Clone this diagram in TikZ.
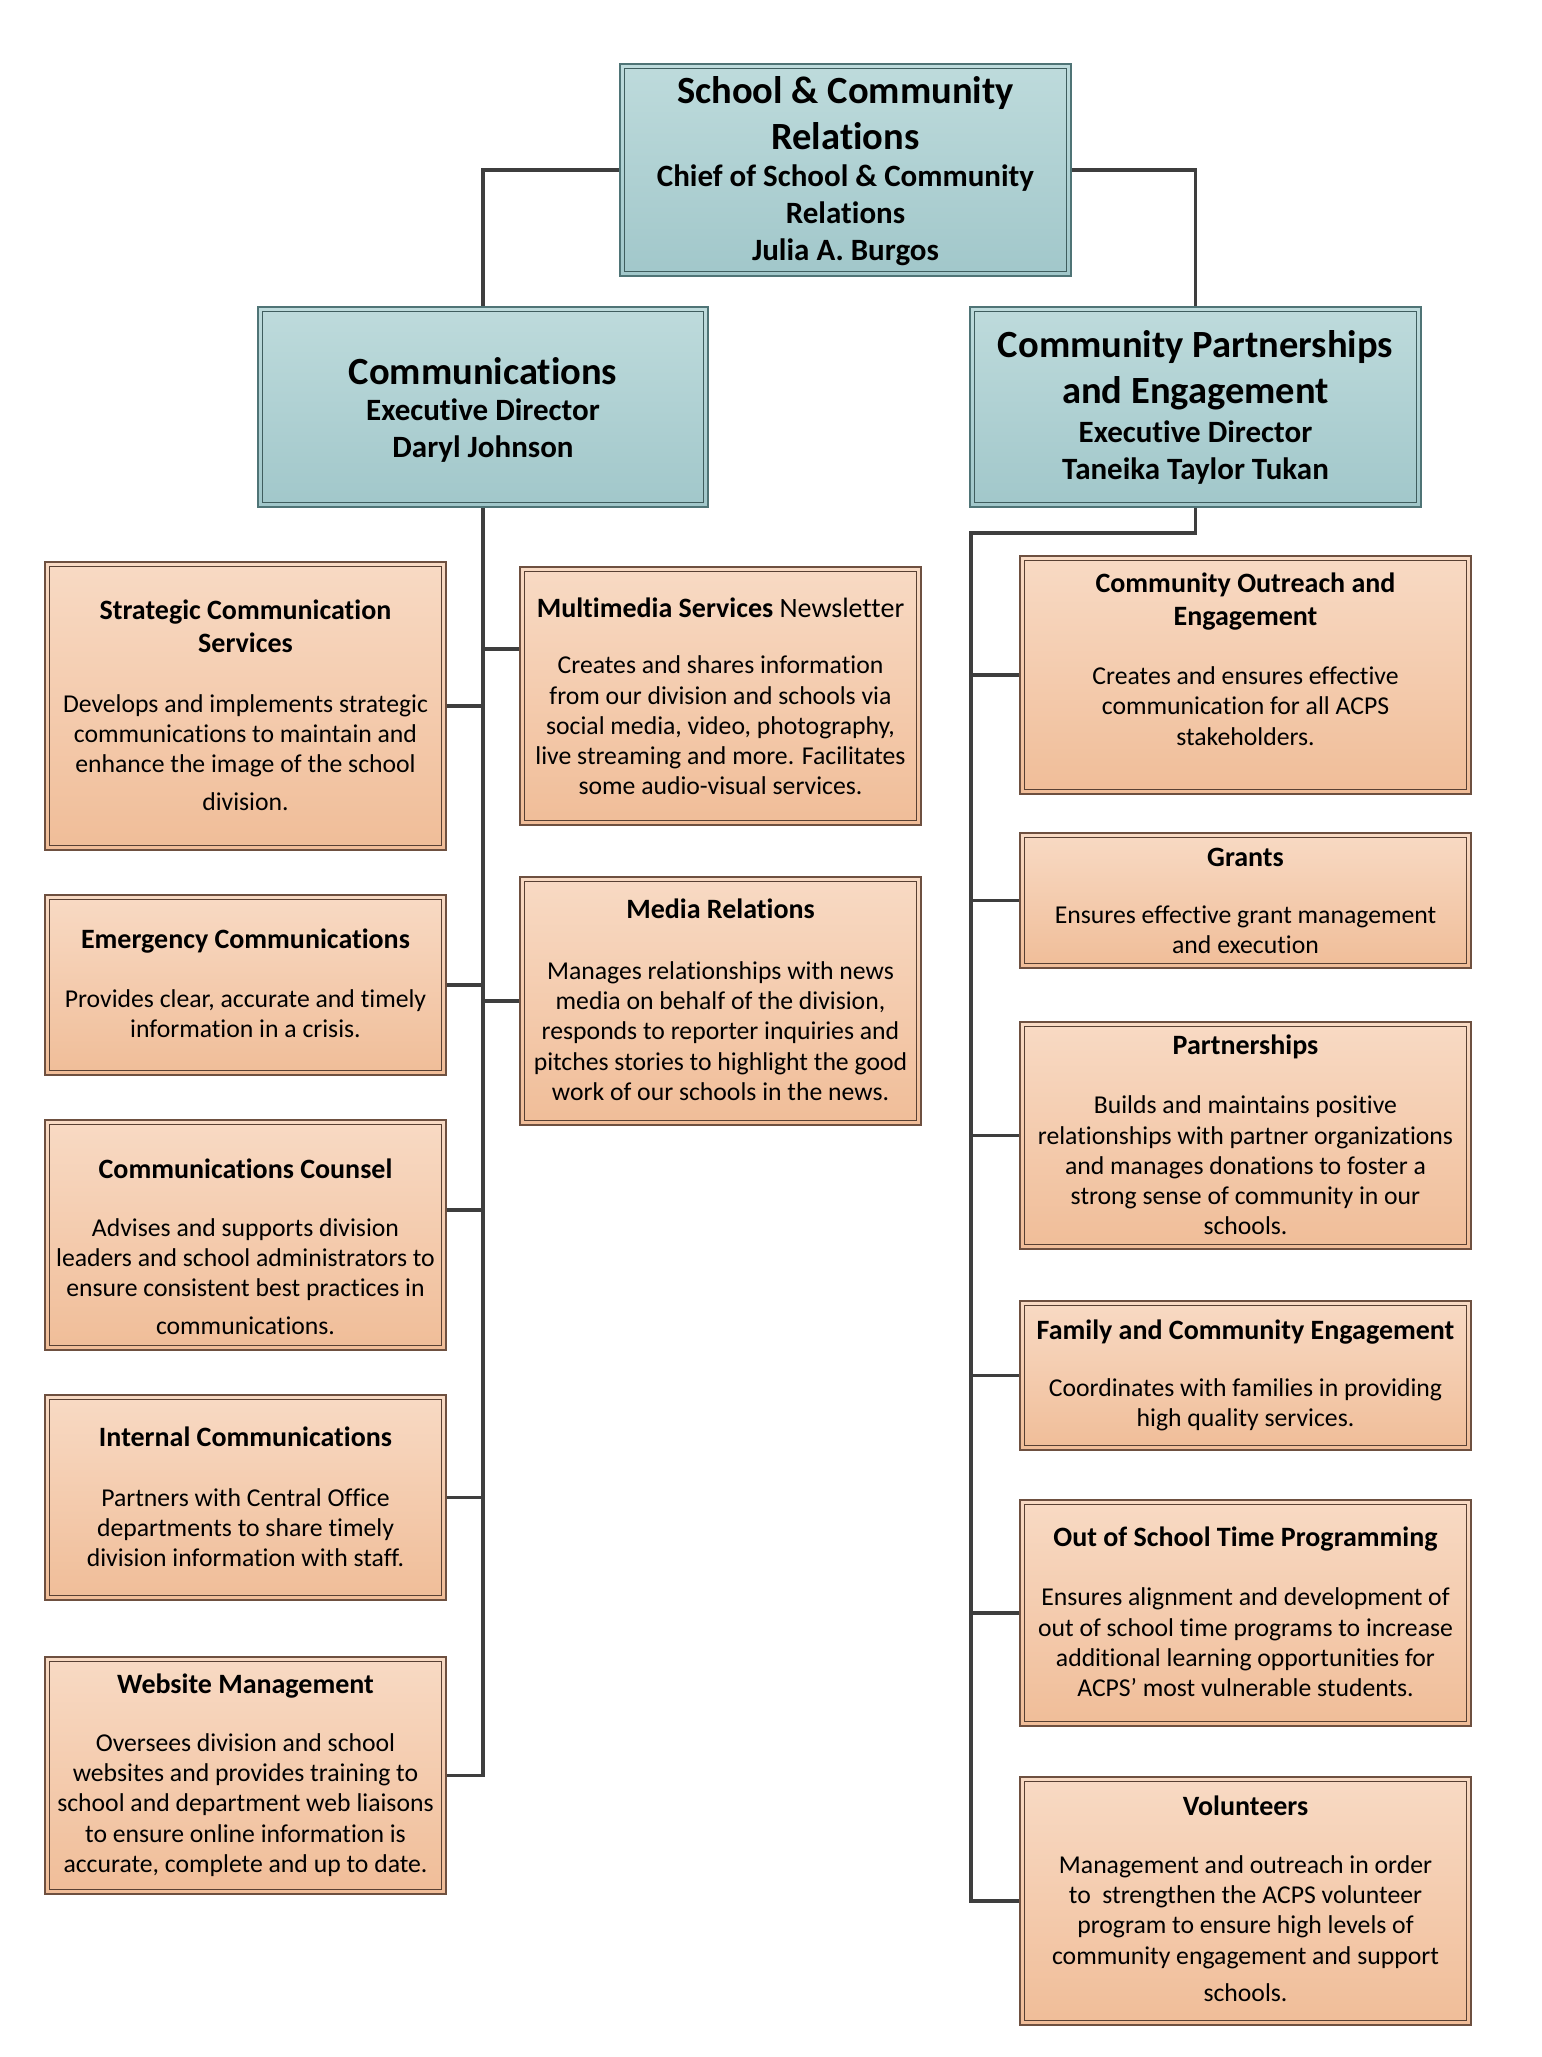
\documentclass[tikz,border=0pt]{standalone}
\usepackage{fontspec}
\setmainfont{Carlito}[Ligatures={NoCommon}]
\definecolor{tealtop}{HTML}{BEDBDC}
\definecolor{tealbot}{HTML}{A1C7CA}
\definecolor{tealedge}{HTML}{4F7476}
\definecolor{orgtop}{HTML}{F8DAC4}
\definecolor{orgbot}{HTML}{F0BD98}
\definecolor{orgedge}{HTML}{6E5040}
\definecolor{connc}{HTML}{3E3E3E}
\begin{document}
\begin{tikzpicture}[x=1pt,y=-1pt,
  tealbox/.style={draw=tealedge, line width=1.6pt, top color=tealtop, bottom color=tealbot, inner sep=0pt},
  orgbox/.style={draw=orgedge, line width=1.4pt, top color=orgtop, bottom color=orgbot, inner sep=0pt},
  tealin/.style={draw=tealedge!80!black, line width=1.2pt},
  orgin/.style={draw=orgedge!80!black, line width=1.1pt},
  bigttl/.style={font=\fontsize{38.5}{46}\selectfont\bfseries, align=center, inner sep=0pt},
  subttl/.style={font=\fontsize{31}{37}\selectfont\bfseries, align=center, inner sep=0pt},
  boxttl/.style={font=\fontsize{28}{33}\selectfont\bfseries, align=center, inner sep=0pt},
  bodytxt/.style={font=\fontsize{25.7}{30.3}\selectfont, align=center, inner sep=0pt},
  conn/.style={draw=connc, line width=3.5pt}
]
\useasboundingbox (0,0) rectangle (1542,2057);
\fill[white] (0,0) rectangle (1542,2057);

% ---------- top level ----------
\node[tealbox, minimum width=451pt, minimum height=212pt] (top) at (845.5,170) {};
\node[tealbox, minimum width=450pt, minimum height=200pt] (comm) at (483,407) {};
\node[tealbox, minimum width=451pt, minimum height=200pt] (cpe) at (1195.5,407) {};
\foreach \n in {top,comm,cpe}
  \draw[tealin] ([xshift=5pt,yshift=-5pt]\n.north west) rectangle ([xshift=-5pt,yshift=5pt]\n.south east);

% ---------- left column ----------
\node[orgbox, minimum width=401pt, minimum height=288pt] (sc) at (245.5,706) {};
\node[orgbox, minimum width=401pt, minimum height=180pt] (em) at (245.5,985) {};
\node[orgbox, minimum width=401pt, minimum height=230pt] (cc) at (245.5,1235) {};
\node[orgbox, minimum width=401pt, minimum height=205pt] (ic) at (245.5,1497.5) {};
\node[orgbox, minimum width=401pt, minimum height=237pt] (wm) at (245.5,1775.5) {};
% ---------- middle column ----------
\node[orgbox, minimum width=401pt, minimum height=258pt] (mm) at (720.5,696) {};
\node[orgbox, minimum width=401pt, minimum height=248pt] (mr) at (720.5,1001) {};
% ---------- right column ----------
\node[orgbox, minimum width=451pt, minimum height=238pt] (co) at (1245.5,675) {};
\node[orgbox, minimum width=451pt, minimum height=135pt] (gr) at (1245.5,900.5) {};
\node[orgbox, minimum width=451pt, minimum height=227pt] (pa) at (1245.5,1135.5) {};
\node[orgbox, minimum width=451pt, minimum height=149pt] (fc) at (1245.5,1375.5) {};
\node[orgbox, minimum width=451pt, minimum height=226pt] (os) at (1245.5,1613) {};
\node[orgbox, minimum width=451pt, minimum height=248pt] (vo) at (1245.5,1901) {};
\foreach \n in {sc,em,cc,ic,wm,mm,mr,co,gr,pa,fc,os,vo}
  \draw[orgin] ([xshift=5pt,yshift=-5pt]\n.north west) rectangle ([xshift=-5pt,yshift=5pt]\n.south east);

% ---------- connectors ----------
\draw[conn] (top.west) -| (comm.north);
\draw[conn] (top.east) -| (cpe.north);
\draw[conn] (comm.south) -- (comm.south |- wm.east) -- (wm.east);
\foreach \n in {sc,em,ic}
  \draw[conn] (\n.east) -- (\n.east -| comm.south);
\draw[conn] ([yshift=25pt]cc.east) -- ([yshift=25pt]cc.east -| comm.south);
\draw[conn] ([yshift=47pt]mm.west) -- ([yshift=47pt]mm.west -| comm.south);
\draw[conn] (mr.west) -- (mr.west -| comm.south);
\coordinate (rtop) at (971,533);
\draw[conn] (cpe.south) |- (rtop) -- (rtop |- vo.west) -- (vo.west);
\foreach \n in {co,gr,pa,fc,os}
  \draw[conn] (\n.west) -- (\n.west -| rtop);

% ---------- texts ----------
\node[bigttl] (topt) at (845.5,113.5) {School \& Community\\Relations};
\node[subttl] (tops) at (845.5,215) {Chief of School \& Community\\Relations\\Julia A. Burgos};
\node[bigttl] (commt) at (483,371) {Communications};
\node[subttl] (comms) at (483,430.5) {Executive Director\\Daryl Johnson};
\node[bigttl] (cpet) at (1195.5,370) {Community Partnerships\\and Engagement};
\node[subttl] (cpes) at (1195.5,452.5) {Executive Director\\Taneika Taylor Tukan};

\node[boxttl] (sct) at (245.5,626) {Strategic Communication\\Services};
\node[bodytxt] (scb) at (245.5,752.5) {Develops and implements strategic\\communications to maintain and\\enhance the image of the school\\[7pt]division.};
\node[boxttl] (emt) at (245.5,941) {Emergency Communications};
\node[bodytxt] (emb) at (245.5,1014) {Provides clear, accurate and timely\\information in a crisis.};
\node[boxttl] (cct) at (245.5,1169) {Communications Counsel};
\node[bodytxt] (ccb) at (245.5,1276.5) {Advises and supports division\\leaders and school administrators to\\ensure consistent best practices in\\[7pt]communications.};
\node[boxttl] (ict) at (245.5,1437) {Internal Communications};
\node[bodytxt] (icb) at (245.5,1527.5) {Partners with Central Office\\departments to share timely\\division information with staff.};
\node[boxttl] (wmt) at (245.5,1686) {Website Management};
\node[bodytxt] (wmb) at (245.5,1805) {Oversees division and school\\websites and provides training to\\school and department web liaisons\\to ensure online information is\\accurate, complete and up to date.};

\node[boxttl] (mmt) at (720.5,608) {Multimedia Services \mdseries Newsletter};
\node[bodytxt] (mmb) at (720.5,725.5) {Creates and shares information\\from our division and schools via\\social media, video, photography,\\live streaming and more. Facilitates\\some audio-visual services.};
\node[boxttl] (mrt) at (720.5,909) {Media Relations};
\node[bodytxt] (mrb) at (720.5,1031) {Manages relationships with news\\media on behalf of the division,\\responds to reporter inquiries and\\pitches stories to highlight the good\\work of our schools in the news.};

\node[boxttl] (cot) at (1245.5,601.5) {Community Outreach and\\Engagement};
\node[bodytxt] (cob) at (1245.5,706) {Creates and ensures effective\\communication for all ACPS\\stakeholders.};
\node[boxttl] (grt) at (1245.5,857) {Grants};
\node[bodytxt] (grb) at (1245.5,930) {Ensures effective grant management\\and execution};
\node[boxttl] (pat) at (1245.5,1047) {Partnerships};
\node[bodytxt] (pab) at (1245.5,1165.5) {Builds and maintains positive\\relationships with partner organizations\\and manages donations to foster a\\strong sense of community in our\\schools.};
\node[boxttl] (fct) at (1245.5,1332) {Family and Community Engagement};
\node[bodytxt] (fcb) at (1245.5,1405) {Coordinates with families in providing\\high quality services.};
\node[boxttl] (ost) at (1245.5,1539) {Out of School Time Programming};
\node[bodytxt] (osb) at (1245.5,1642.5) {Ensures alignment and development of\\out of school time programs to increase\\additional learning opportunities for\\ACPS’ most vulnerable students.};
\node[boxttl] (vot) at (1245.5,1806) {Volunteers};
\node[bodytxt] (vob) at (1245.5,1928.5) {Management and outreach in order\\to\ \ strengthen the ACPS volunteer\\program to ensure high levels of\\community engagement and support\\[7pt]schools.};
\end{tikzpicture}
\end{document}
